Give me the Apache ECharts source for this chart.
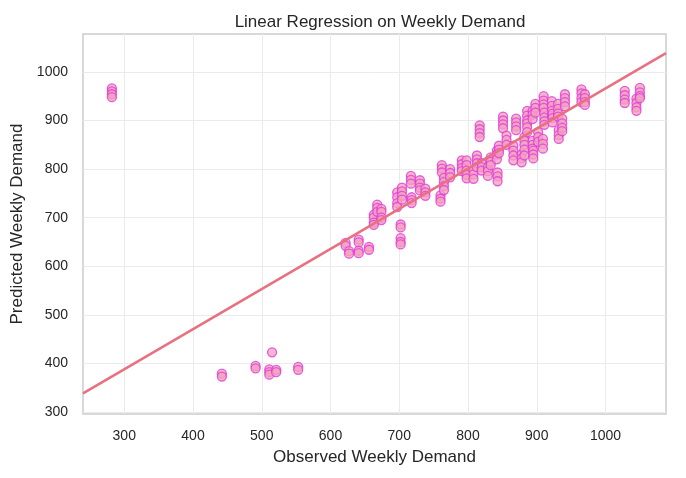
<!DOCTYPE html>
<html>
<head>
<meta charset="utf-8">
<title>Linear Regression on Weekly Demand</title>
<script src="https://cdn.jsdelivr.net/npm/echarts@6.0.0/dist/echarts.min.js"></script>
<style>
  html, body { margin: 0; padding: 0; background: #fff; }
  #chart { width: 686px; height: 478px; }
</style>
</head>
<body>
<div id="chart"></div>
<script>
// observed weekly demand, and the predicted values stacked at each observed value
var observed = [282, 442, 491, 511, 515, 521, 553, 622, 627, 641, 656, 663, 668, 674,
  697, 702, 704, 717, 718, 730, 738, 760, 762, 765, 774, 791, 798, 808, 813, 817,
  820, 829, 833, 842, 843, 845, 851, 856, 866, 870, 878, 882, 886, 894, 895, 898,
  902, 909, 910, 911, 922, 923, 931, 932, 937, 941, 965, 970, 1028, 1045, 1050];
var predicted = [
  [966, 960, 954, 948], [379, 373], [395, 390], [388, 382, 377], [423], [387, 382],
  [393, 387], [648, 642], [631, 626], [655, 649, 632, 627], [640, 634],
  [706, 700, 690, 685], [727, 720, 712], [718, 712, 700, 695],
  [752, 742, 730, 722], [686, 680, 658, 650, 645], [762, 754, 745, 737],
  [786, 778, 770], [742, 736, 730], [777, 770, 762, 756], [760, 752, 745],
  [746, 739, 733], [808, 801, 793], [782, 773, 765, 757], [800, 792, 783],
  [818, 810, 802, 796], [818, 808, 797, 788, 781], [797, 789, 780],
  [828, 820, 812, 804], [890, 882, 874, 866], [812, 804, 797], [804, 796, 786],
  [824, 815, 808], [838, 830, 820], [793, 785, 775], [848, 840, 833],
  [908, 900, 892, 884], [869, 860, 850], [848, 838, 828, 818], [904, 896, 888, 880],
  [830, 822, 814], [866, 858, 850, 840, 828], [920, 910, 900, 894, 886, 876],
  [920, 912, 903, 858, 850, 842], [838, 830, 822], [934, 926, 916],
  [876, 866, 856], [862, 852, 842], [950, 941, 933, 926], [916, 906, 898, 891],
  [940, 930, 920, 910], [914, 905, 896], [934, 924, 914, 908], [880, 870, 862],
  [904, 894, 885, 878], [954, 946, 938, 929], [964, 956, 946, 938],
  [954, 946, 938, 932], [961, 952, 943, 936], [945, 936, 927, 920],
  [967, 958, 950, 946]
];
// fitted line, read at the two plot edges
var fitX = [240, 1088];
var fitY = [338.5, 1038.5];
var xTicks = [300, 400, 500, 600, 700, 800, 900, 1000];
var yTicks = [300, 400, 500, 600, 700, 800, 900, 1000];

var points = [];
for (var i = 0; i < observed.length; i++) {
  for (var j = 0; j < predicted[i].length; j++) {
    points.push([observed[i], predicted[i][j]]);
  }
}

var font = 'Liberation Sans, Arial, sans-serif';
var plain = function (v) { return String(v); };
var myChart = echarts.init(document.getElementById('chart'));
var option = {
  animation: false,
  backgroundColor: '#fff',
  title: {
    text: 'Linear Regression on Weekly Demand',
    left: 375,
    textAlign: 'center',
    top: 9,
    textStyle: { fontFamily: font, fontSize: 17, fontWeight: 'normal', color: '#262626' }
  },
  grid: {
    left: 83, right: 20, top: 34, bottom: 64,
    show: true, borderColor: '#cccccc', borderWidth: 1.5, backgroundColor: '#fff'
  },
  xAxis: {
    type: 'value',
    min: fitX[0], max: fitX[1],
    name: 'Observed Weekly Demand',
    nameLocation: 'middle', nameGap: 35,
    nameTextStyle: { fontFamily: font, fontSize: 17, color: '#262626' },
    axisLine: { show: false },
    axisTick: { show: false, customValues: xTicks },
    axisLabel: { customValues: xTicks, formatter: plain, margin: 15, fontFamily: font, fontSize: 14, color: '#262626' },
    splitLine: { show: true, lineStyle: { color: '#ebebeb', width: 1 } }
  },
  yAxis: {
    type: 'value',
    min: 296, max: 1078,
    name: 'Predicted Weekly Demand',
    nameLocation: 'middle', nameGap: 54,
    nameTextStyle: { fontFamily: font, fontSize: 17, color: '#262626' },
    axisLine: { show: false },
    axisTick: { show: false, customValues: yTicks },
    axisLabel: { customValues: yTicks, formatter: plain, margin: 15, fontFamily: font, fontSize: 14, color: '#262626' },
    splitLine: { show: true, lineStyle: { color: '#ebebeb', width: 1 } }
  },
  series: [
    {
      type: 'scatter',
      data: points,
      symbolSize: 9,
      itemStyle: {
        color: '#f2a2bd',
        borderColor: '#e03adc',
        borderWidth: 1.3,
        opacity: 0.8
      },
      z: 2
    },
    {
      type: 'line',
      data: [[fitX[0], fitY[0]], [fitX[1], fitY[1]]],
      symbol: 'none',
      lineStyle: { color: '#e8707f', width: 2.5 },
      z: 3
    }
  ]
};
myChart.setOption(option);
</script>
</body>
</html>
